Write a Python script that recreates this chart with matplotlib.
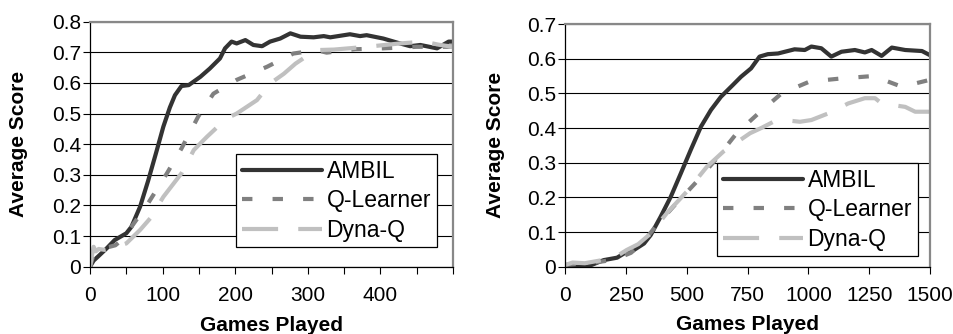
import matplotlib
matplotlib.use('Agg')
import matplotlib.pyplot as plt

plt.rcParams['font.family'] = ['Liberation Sans', 'DejaVu Sans']
plt.rcParams['lines.scale_dashes'] = False

# ---- left panel (500 games) ----
amb_x_l = [0, 5, 11, 23, 34, 50, 57, 69, 80, 92, 101, 110, 117, 126, 136, 152, 165, 179, 186, 195,
           202, 214, 225, 237, 248, 262, 276, 290, 308, 322, 331, 358, 372, 381, 404, 427, 441, 455,
           478, 494, 500]
amb_y_l = [0, 0.02, 0.033, 0.06, 0.087, 0.109, 0.13, 0.196, 0.28, 0.38, 0.457, 0.52, 0.56, 0.59,
           0.593, 0.62, 0.647, 0.68, 0.713, 0.735, 0.729, 0.74, 0.724, 0.72, 0.735, 0.745, 0.762,
           0.751, 0.749, 0.753, 0.749, 0.759, 0.753, 0.756, 0.745, 0.729, 0.72, 0.724, 0.713, 0.735,
           0.735]
q_x_l = [0, 5, 14, 27, 35, 45, 60, 80, 106, 126, 149, 170, 202, 244, 280, 312, 326, 365, 404, 450,
         492, 500]
q_y_l = [0, 0.04, 0.06, 0.065, 0.07, 0.09, 0.14, 0.207, 0.305, 0.386, 0.49, 0.565, 0.61, 0.653,
         0.696, 0.707, 0.699, 0.71, 0.713, 0.718, 0.718, 0.72]
d_x_l = [0, 3, 5, 8, 12, 20, 30, 50, 69, 83, 101, 126, 143, 161, 188, 202, 230, 248, 267, 283, 300,
         308, 336, 381, 427, 460, 480, 500]
d_y_l = [0, 0.04, 0.065, 0.05, 0.058, 0.055, 0.06, 0.076, 0.12, 0.158, 0.228, 0.305, 0.381, 0.424,
         0.484, 0.5, 0.544, 0.598, 0.63, 0.663, 0.69, 0.707, 0.709, 0.718, 0.729, 0.735, 0.725,
         0.718]

# ---- right panel (1500 games) ----
amb_x_r = [0, 90, 158, 213, 241, 282, 324, 351, 392, 434, 475, 516, 558, 599, 640, 689, 723, 764,
           799, 833, 875, 943, 985, 1012, 1053, 1094, 1136, 1191, 1232, 1260, 1301, 1343, 1398,
           1467, 1500]
amb_y_r = [0, 0, 0.019, 0.026, 0.038, 0.048, 0.067, 0.091, 0.144, 0.202, 0.269, 0.337, 0.404,
           0.452, 0.49, 0.524, 0.548, 0.572, 0.606, 0.613, 0.615, 0.627, 0.625, 0.635, 0.63, 0.606,
           0.62, 0.625, 0.618, 0.625, 0.608, 0.632, 0.625, 0.622, 0.61]
q_x_r = [0, 50, 100, 150, 200, 270, 320, 370, 444, 540, 620, 705, 794, 890, 1005, 1136, 1267, 1384,
         1494, 1500]
q_y_r = [0.005, 0.008, 0.01, 0.015, 0.02, 0.04, 0.07, 0.115, 0.173, 0.245, 0.31, 0.385, 0.442, 0.5,
         0.534, 0.543, 0.55, 0.519, 0.538, 0.54]
d_x_r = [0, 30, 80, 120, 160, 200, 252, 300, 350, 417, 499, 582, 650, 760, 806, 856, 900, 965, 1012,
         1081, 1164, 1232, 1274, 1301, 1398, 1439, 1500]
d_y_r = [0.005, 0.012, 0.01, 0.015, 0.02, 0.025, 0.048, 0.065, 0.095, 0.154, 0.216, 0.288, 0.332,
         0.385, 0.4, 0.418, 0.423, 0.418, 0.423, 0.442, 0.471, 0.486, 0.486, 0.471, 0.461, 0.447,
         0.447]

names = ['AMBIL', 'Q-Learner', 'Dyna-Q']
xticks_l = list(range(0, 501, 50))
xlabels_l = ['0', '', '100', '', '200', '', '300', '', '400', '', '']
xticks_r = list(range(0, 1501, 250))

FS = 15

fig = plt.figure(figsize=(9.54, 3.34), dpi=100)
ax1 = fig.add_axes([90/954, 1 - 266.7/334, 363/954, 245/334])
ax2 = fig.add_axes([565.3/954, 1 - 266.7/334, 364.7/954, 242.7/334])


def draw(ax, series, ymax, xticks, xlabels, leg_xy, ylab_x):
    (ax_, ay_), (qx, qy), (dx, dy) = series
    ax.plot(ax_, ay_, color='#333333', lw=3, solid_capstyle='round', label=names[0])
    ax.plot(qx, qy, color='#808080', lw=3, dashes=(7.5, 14.5), dash_capstyle='butt', label=names[1])
    ax.plot(dx, dy, color='#c0c0c0', lw=3, dashes=(26, 14.5), dash_capstyle='butt', label=names[2])
    ax.set_xlim(xticks[0], xticks[-1])
    ax.set_ylim(0, ymax)
    yt = [i / 10 for i in range(int(round(ymax * 10)) + 1)]
    ax.set_yticks(yt)
    ax.set_yticklabels(['0' if v == 0 else '%.1f' % v for v in yt])
    ax.set_xticks(xticks)
    ax.set_xticklabels(xlabels)
    ax.grid(axis='y', color='black', lw=0.8)
    ax.set_axisbelow(True)
    ax.tick_params(axis='x', direction='out', length=5, width=0.8, pad=9, labelsize=FS)
    ax.tick_params(axis='y', direction='out', length=5, width=0.8, pad=1.5, labelsize=FS)
    for s in ['left', 'bottom']:
        ax.spines[s].set_color('black')
        ax.spines[s].set_linewidth(0.9)
    for s in ['top', 'right']:
        ax.spines[s].set_color('#888888')
        ax.spines[s].set_linewidth(1.6)
    ax.set_xlabel('Games Played', fontsize=FS, fontweight='bold')
    ax.set_ylabel('Average Score', fontsize=FS, fontweight='bold')
    ax.xaxis.set_label_coords(0.5, -0.2)
    ax.yaxis.set_label_coords(ylab_x, 0.5)
    leg = ax.legend(loc='upper left', bbox_to_anchor=leg_xy, bbox_transform=fig.transFigure,
                    fontsize=16.5, frameon=True, fancybox=False, framealpha=1, edgecolor='black',
                    handlelength=3.5, handletextpad=0.2, borderpad=0.25, labelspacing=0.28,
                    borderaxespad=0)
    leg.get_frame().set_linewidth(0.9)


draw(ax1, [(amb_x_l, amb_y_l), (q_x_l, q_y_l), (d_x_l, d_y_l)], 0.8, xticks_l, xlabels_l,
     (236/954, 1 - 154/334), -0.171)
draw(ax2, [(amb_x_r, amb_y_r), (q_x_r, q_y_r), (d_x_r, d_y_r)], 0.7, xticks_r,
     [str(v) for v in xticks_r], (717/954, 1 - 163/334), -0.165)

fig.savefig('out.png', dpi=100)
